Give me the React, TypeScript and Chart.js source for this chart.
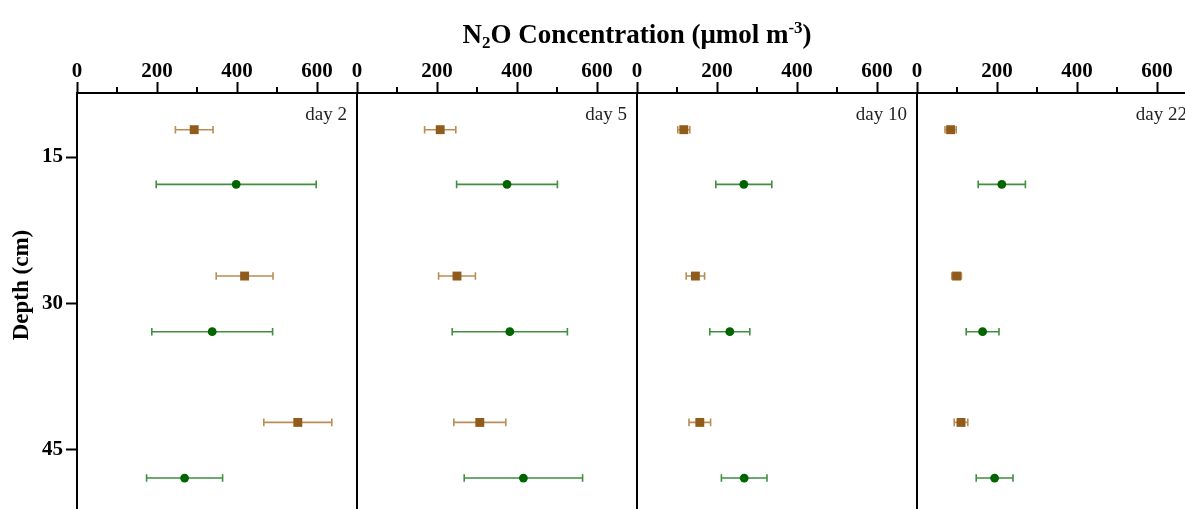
import React, { useEffect, useRef } from "react";
import { Chart, registerables } from "chart.js";

Chart.register(...registerables);

// ---------- data ----------
const DAYS = ["day 2", "day 5", "day 10", "day 22"];
const X_TICKS = [0, 200, 400, 600];
const X_MINOR_TICKS = [100, 300, 500];
const Y_TICKS = [15, 30, 45];
const X_MIN = 0;
const X_MAX = 700;
const Y_MIN = 8.44;
const Y_MAX = 52.2;
const Y_TITLE = "Depth (cm)";

// depths (cm) of the two series
const DEPTH_BROWN = [12.2, 27.2, 42.2];
const DEPTH_GREEN = [17.8, 32.9, 47.9];

// brown series (mean, error) per day
const BROWN_DAY2 = [293, 419, 552];
const BROWN_ERR_DAY2 = [47, 71, 85];
const BROWN_DAY5 = [208, 250, 307];
const BROWN_ERR_DAY5 = [39, 46, 65];
const BROWN_DAY10 = [117, 146, 157];
const BROWN_ERR_DAY10 = [15, 23, 27];
const BROWN_DAY22 = [84, 99, 110];
const BROWN_ERR_DAY22 = [14, 12, 17];

// green series (mean, error) per day
const GREEN_DAY2 = [398, 338, 269];
const GREEN_ERR_DAY2 = [200, 151, 95];
const GREEN_DAY5 = [375, 382, 416];
const GREEN_ERR_DAY5 = [126, 144, 148];
const GREEN_DAY10 = [267, 232, 268];
const GREEN_ERR_DAY10 = [70, 50, 57];
const GREEN_DAY22 = [212, 164, 194];
const GREEN_ERR_DAY22 = [59, 41, 46];

const BROWN_MEANS = [BROWN_DAY2, BROWN_DAY5, BROWN_DAY10, BROWN_DAY22];
const BROWN_ERRS = [BROWN_ERR_DAY2, BROWN_ERR_DAY5, BROWN_ERR_DAY10, BROWN_ERR_DAY22];
const GREEN_MEANS = [GREEN_DAY2, GREEN_DAY5, GREEN_DAY10, GREEN_DAY22];
const GREEN_ERRS = [GREEN_ERR_DAY2, GREEN_ERR_DAY5, GREEN_ERR_DAY10, GREEN_ERR_DAY22];

// ---------- style ----------
const FONT = '"Liberation Serif", "Times New Roman", serif';
const BROWN = "#8f5c1c";
const BROWN_BAR = "#bb8d55";
const GREEN = "#006400";
const GREEN_BAR = "#3f8f3f";

const errorBarPlugin = {
  id: "errorBars",
  beforeDatasetsDraw(chart: any) {
    const ctx = chart.ctx;
    ctx.save();
    chart.data.datasets.forEach((ds: any, i: number) => {
      const meta = chart.getDatasetMeta(i);
      const xs = chart.scales[ds.xAxisID];
      meta.data.forEach((el: any, j: number) => {
        const v = ds.data[j].x;
        const e = ds.errors[j];
        const x1 = xs.getPixelForValue(v - e);
        const x2 = xs.getPixelForValue(v + e);
        const y = el.y;
        ctx.strokeStyle = ds.barColor;
        ctx.lineWidth = 1.6;
        ctx.beginPath();
        ctx.moveTo(x1, y);
        ctx.lineTo(x2, y);
        ctx.moveTo(x1, y - 3.8);
        ctx.lineTo(x1, y + 3.8);
        ctx.moveTo(x2, y - 3.8);
        ctx.lineTo(x2, y + 3.8);
        ctx.stroke();
      });
    });
    ctx.restore();
  },
};

const decorPlugin = {
  id: "decor",
  afterDraw(chart: any) {
    const ctx = chart.ctx;
    const area = chart.chartArea;
    ctx.save();
    for (let p = 0; p < DAYS.length; p++) {
      const s = chart.scales["x" + p];
      ctx.strokeStyle = "#000";
      ctx.lineWidth = 2;
      if (p > 0) {
        ctx.beginPath();
        ctx.moveTo(s.left, area.top);
        ctx.lineTo(s.left, area.bottom);
        ctx.stroke();
      }
      ctx.beginPath();
      X_MINOR_TICKS.forEach((v) => {
        const x = s.getPixelForValue(v);
        ctx.moveTo(x, area.top);
        ctx.lineTo(x, area.top - 6);
      });
      ctx.stroke();
      ctx.fillStyle = "#222";
      ctx.font = `19px ${FONT}`;
      ctx.textAlign = "right";
      ctx.textBaseline = "alphabetic";
      ctx.fillText(DAYS[p], s.right - 10, 120);
    }
    // y-axis title
    ctx.save();
    ctx.translate(22, 285);
    ctx.rotate(-Math.PI / 2);
    ctx.fillStyle = "#000";
    ctx.font = `bold 23px ${FONT}`;
    ctx.textAlign = "center";
    ctx.textBaseline = "middle";
    ctx.fillText(Y_TITLE, 0, 0);
    ctx.restore();
    // title with sub/superscripts
    const parts = [
      { t: "N", size: 27, dy: 0 },
      { t: "2", size: 17, dy: 5 },
      { t: "O Concentration (\u03bcmol m", size: 27, dy: 0 },
      { t: "-3", size: 17, dy: -10 },
      { t: ")", size: 27, dy: 0 },
    ];
    let total = 0;
    parts.forEach((pt) => {
      ctx.font = `bold ${pt.size}px ${FONT}`;
      total += ctx.measureText(pt.t).width;
    });
    let x = (area.left + area.right) / 2 - total / 2;
    const base = 43;
    ctx.fillStyle = "#000";
    ctx.textAlign = "left";
    ctx.textBaseline = "alphabetic";
    parts.forEach((pt) => {
      ctx.font = `bold ${pt.size}px ${FONT}`;
      ctx.fillText(pt.t, x, base + pt.dy);
      x += ctx.measureText(pt.t).width;
    });
    ctx.restore();
  },
};

export default function App() {
  const ref = useRef<HTMLCanvasElement>(null);

  useEffect(() => {
    const canvas = ref.current;
    if (!canvas) return;

    const datasets: any[] = [];
    for (let p = 0; p < DAYS.length; p++) {
      datasets.push({
        label: `Brown ${DAYS[p]}`,
        xAxisID: "x" + p,
        yAxisID: "y",
        data: DEPTH_BROWN.map((d, i) => ({ x: BROWN_MEANS[p][i], y: d })),
        errors: BROWN_ERRS[p],
        barColor: BROWN_BAR,
        pointStyle: "rect",
        pointRadius: 6.3,
        pointBackgroundColor: BROWN,
        pointBorderColor: BROWN,
        pointBorderWidth: 0,
        showLine: false,
      });
      datasets.push({
        label: `Green ${DAYS[p]}`,
        xAxisID: "x" + p,
        yAxisID: "y",
        data: DEPTH_GREEN.map((d, i) => ({ x: GREEN_MEANS[p][i], y: d })),
        errors: GREEN_ERRS[p],
        barColor: GREEN_BAR,
        pointStyle: "circle",
        pointRadius: 4.4,
        pointBackgroundColor: GREEN,
        pointBorderColor: GREEN,
        pointBorderWidth: 0,
        showLine: false,
      });
    }

    const scales: any = {
      y: {
        type: "linear",
        position: "left",
        reverse: true,
        min: Y_MIN,
        max: Y_MAX,
        afterBuildTicks: (s: any) => {
          s.ticks = Y_TICKS.map((v) => ({ value: v }));
        },
        afterFit: (s: any) => {
          s.width = 77;
          s.paddingTop = 0;
          s.paddingBottom = 0;
        },
        grid: {
          drawOnChartArea: false,
          drawTicks: true,
          tickLength: 11,
          tickWidth: 2,
          tickColor: "#000",
        },
        border: { display: true, color: "#000", width: 2 },
        ticks: {
          color: "#000",
          padding: 3,
          font: { family: FONT, size: 21, weight: "bold" },
        },
        title: { display: false },
      },
    };
    // top stack is placed in reverse insertion order, so insert last panel first
    for (let p = DAYS.length - 1; p >= 0; p--) {
      scales["x" + p] = {
        type: "linear",
        position: "top",
        stack: "panels",
        stackWeight: 1,
        min: X_MIN,
        max: X_MAX,
        afterBuildTicks: (s: any) => {
          s.ticks = X_TICKS.map((v) => ({ value: v }));
        },
        afterFit: (s: any) => {
          s.height = 93;
        },
        grid: {
          drawOnChartArea: false,
          drawTicks: true,
          tickLength: 11,
          tickWidth: 2,
          tickColor: "#000",
        },
        border: { display: true, color: "#000", width: 2 },
        ticks: {
          color: "#000",
          padding: -2,
          autoSkip: false,
          maxRotation: 0,
          font: { family: FONT, size: 21, weight: "bold" },
          callback: (v: any) => String(v),
        },
      };
    }

    const chart = new Chart(canvas, {
      type: "scatter",
      data: { datasets },
      options: {
        animation: false,
        responsive: false,
        maintainAspectRatio: false,
        layout: { autoPadding: false, padding: { left: 0, right: 15, top: 0, bottom: 0 } },
        plugins: {
          legend: { display: false },
          tooltip: { enabled: false },
          title: { display: false },
        },
        scales,
      },
      plugins: [errorBarPlugin, decorPlugin],
    } as any);

    return () => chart.destroy();
  }, []);

  return (
    <div
      style={{
        position: "fixed",
        left: 0,
        top: 0,
        width: 1185,
        height: 509,
        overflow: "hidden",
        background: "#fff",
      }}
    >
      <canvas ref={ref} width={1212} height={520} style={{ display: "block" }} />
    </div>
  );
}
